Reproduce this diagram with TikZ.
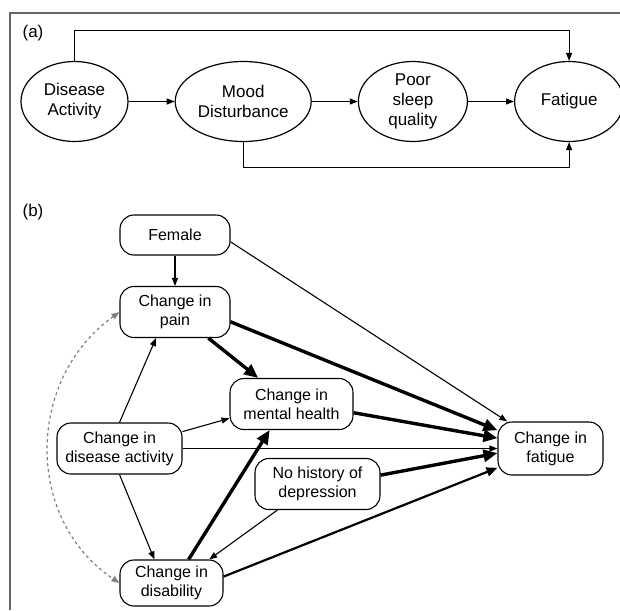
\documentclass[tikz,border=0pt]{standalone}
\usepackage{fontspec}
\setmainfont{Liberation Sans}
\usetikzlibrary{shapes.geometric, arrows.meta, positioning}

\begin{document}
\begin{tikzpicture}[x=1pt, y=-1pt, node distance=46pt, auto, thick]
        % Define block styles
        \tikzstyle{ovalnode} = [ellipse, draw, line width=1.2pt, inner sep=0pt, minimum height=80pt, align=center, font=\fontsize{17}{20}\selectfont]
        \tikzstyle{boxnode} = [rectangle, draw, line width=1.1pt, rounded corners=14pt, inner sep=4pt, minimum height=51pt, align=center, font=\fontsize{16}{19}\selectfont]
        \tikzstyle{panellabel} = [font=\fontsize{17}{20}\selectfont]
        \tikzstyle{line} = [draw, line width=1.1pt, -{Triangle[length=8pt, width=6pt]}]
        \tikzstyle{midline} = [draw, line width=2.2pt, -{Triangle[length=11pt, width=9pt]}]
        \tikzstyle{boldline} = [draw, line width=3.4pt, -{Triangle[length=14pt, width=12pt]}]
        \tikzstyle{corrline} = [draw, gray, line width=1.2pt, dash pattern=on 3pt off 3pt, {Triangle[length=8pt, width=6pt]}-{Triangle[length=8pt, width=6pt]}]

        \useasboundingbox (0,0) rectangle (620,610);
        \draw[gray!80!black, line width=2pt] (10,610) -- (10,13) -- (620,13);

        % Panel (a): nodes
        \node [panellabel] (La) at (33,33) {(a)};
        \node [ovalnode, minimum width=107pt] (DA) at (74.5,101.5) {Disease\\Activity};
        \node [ovalnode, minimum width=136pt, right=of DA] (MD) {Mood\\Disturbance};
        \node [ovalnode, minimum width=109pt, right=of MD] (PS) {Poor\\sleep\\quality};
        \node [ovalnode, minimum width=109pt, right=of PS] (F) {Fatigue};

        % Panel (a): paths
        \draw[line] (DA) -- (MD);
        \draw[line] (MD) -- (PS);
        \draw[line] (PS) -- (F);
        \draw[line] (DA.north) -- ++(0,-30) -| (F.north);
        \draw[line] (MD.south) -- ++(0,25) -| (F.south);

        % Panel (b): nodes
        \node [panellabel] (Lb) at (33,212) {(b)};
        \node [boxnode, minimum width=110pt, minimum height=40pt] (Fem) at (175,235) {Female};
        \node [boxnode, minimum width=110pt] (Pain) at (175,312) {Change in\\pain};
        \node [boxnode, minimum width=123pt] (MH) at (291.5,404) {Change in\\mental health};
        \node [boxnode, minimum width=125pt] (CDA) at (119.5,448.5) {Change in\\disease activity};
        \node [boxnode, minimum width=125pt] (NoDep) at (317.5,484) {No history of\\depression};
        \node [boxnode, minimum width=103pt, minimum height=46pt] (Dis) at (171.5,583) {Change in\\disability};
        \node [boxnode, minimum width=105pt, minimum height=53pt] (Fat) at (550.5,448.5) {Change in\\fatigue};

        % Panel (b): paths
        \draw[line] (Fem) -- (Pain);
        \draw[line] (Fem.-7) -- (Fat.148);
        \draw[boldline] (Pain.-10) -- (Fat.161);
        \draw[boldline] (Pain.-38) -- (MH.142);
        \draw[boldline] (MH.-8) -- (Fat.169);
        \draw[line] (CDA.east) -- (Fat.west);
        \draw[boldline] (NoDep.8) -- (Fat.185);
        \draw[midline] (Dis.7) -- (Fat.200);
        \draw[line] (CDA.north) -- (Pain.234);
        \draw[line] (CDA.15) -- (MH.193);
        \draw[line] (CDA.south) -- (Dis.126);
        \draw[boldline] (Dis.54) -- (MH.230);
        \draw[line] (NoDep.213) -- (Dis.32);
        \draw[corrline] (Pain.west) .. controls (25,380) and (25,520) .. (Dis.west);

    \end{tikzpicture}
\end{document}
